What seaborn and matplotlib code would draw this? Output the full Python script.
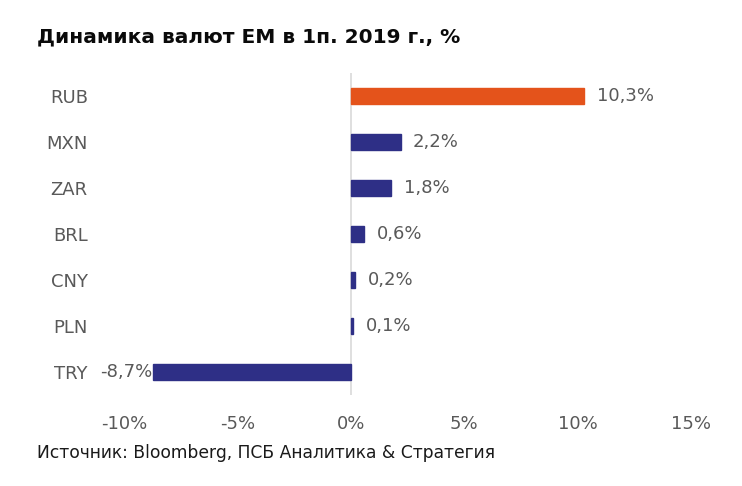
import pandas as pd
import seaborn as sns
import matplotlib.pyplot as plt

currencies = ["RUB", "MXN", "ZAR", "BRL", "CNY", "PLN", "TRY"]
changes = [10.3, 2.2, 1.8, 0.6, 0.2, 0.1, -8.7]
value_labels = ["10,3%", "2,2%", "1,8%", "0,6%", "0,2%", "0,1%", "-8,7%"]
x_ticks = [-10, -5, 0, 5, 10, 15]
x_ticklabels = ["-10%", "-5%", "0%", "5%", "10%", "15%"]

orange = "#E4531B"
navy = "#2E2F86"
gray_text = "#595959"

sns.set_style("white")
plt.rcParams["font.family"] = ["DejaVu Sans"]

df = pd.DataFrame({"cur": currencies, "chg": changes})
colors = {c: (orange if c == "RUB" else navy) for c in currencies}

fig = plt.figure(figsize=(7.42, 4.86), dpi=100)
ax = fig.add_axes([0.167, 0.187, 0.764, 0.663])

sns.barplot(data=df, x="chg", y="cur", hue="cur", palette=colors,
            order=currencies, width=0.36, legend=False, ax=ax, saturation=1)
# thin outline in the bar colour so the tiny bars stay visible
for p in ax.patches:
    p.set_edgecolor(p.get_facecolor())
    p.set_linewidth(1)

ax.axvline(0, color="#d9d9d9", lw=1.2, zorder=0)
ax.set_xlim(-10, 15)
ax.set_ylim(6.5, -0.5)
ax.set_xticks(x_ticks)
ax.set_xticklabels(x_ticklabels)
ax.set_xlabel("")
ax.set_ylabel("")
ax.tick_params(axis="x", length=0, pad=14, labelsize=13, labelcolor=gray_text)
ax.tick_params(axis="y", length=0, pad=26, labelsize=13, labelcolor=gray_text)
for s in ax.spines.values():
    s.set_visible(False)

for i, (v, lab) in enumerate(zip(changes, value_labels)):
    if v >= 0:
        ax.annotate(lab, (v, i), xytext=(9, 0), textcoords="offset points",
                    ha="left", va="center", fontsize=13, color=gray_text)
    else:
        ax.annotate(lab, (v, i), xytext=(-1, 0), textcoords="offset points",
                    ha="right", va="center", fontsize=13, color=gray_text)

fig.text(37 / 742, 1 - 37 / 486, "Динамика валют EM в 1п. 2019 г., %",
         fontsize=14.5, fontweight="bold", color="#0a0a0a", ha="left", va="center")
fig.text(37 / 742, 1 - 453 / 486, "Источник: Bloomberg, ПСБ Аналитика & Стратегия",
         fontsize=12.3, color="#1a1a1a", ha="left", va="center")

fig.savefig("out.png", dpi=100)
